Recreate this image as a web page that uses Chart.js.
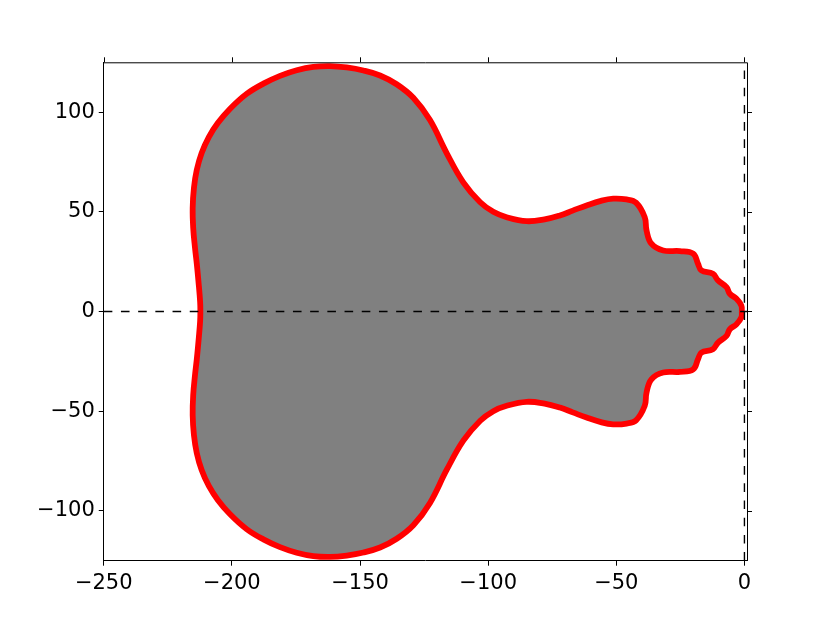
<!DOCTYPE html>
<html>
<head>
<meta charset="utf-8">
<script src="https://cdn.jsdelivr.net/npm/chart.js@4"></script>
<style>
    html, body { margin: 0; padding: 0; background: #fff; }
    canvas { display: block; }
</style>
</head>
<body>
<canvas id="chart" width="830" height="623"></canvas>
<script>
// boundary of the region, upper half: from the tip at the origin going left
const upperX = [-1, -1.2, -3.1, -5.7, -7.0, -10.3, -12.3, -16.8, -18.1, -20.0, -25.2, -31.7, -36.3, -38.2, -38.9, -42.3, -46.0, -51.2, -56.0, -61.6, -67.0, -72.0, -78.0, -85.0, -92.8, -98.0, -103.1, -109.7, -116.2, -122.7, -129.2, -135.7, -142.2, -148.7, -155.2, -161.7, -168.2, -174.7, -181.2, -187.7, -194.2, -200.7, -205.5, -209.0, -211.8, -213.7, -214.8, -215.3, -215.1, -214.4, -213.7, -212.9, -212.4, -212.3];
const upperY = [0, 3.0, 6.4, 8.9, 12.2, 15.6, 18.9, 20.6, 23.9, 29.0, 30.3, 30.6, 34.0, 40.6, 47.3, 54.6, 56.2, 56.6, 55.5, 53.2, 50.6, 48.2, 46.2, 45.3, 47.3, 50.0, 54.8, 64.8, 79.5, 96.0, 107.2, 114.0, 118.4, 120.9, 122.4, 123.1, 122.7, 121.0, 118.2, 114.3, 109.2, 101.7, 94.5, 87.5, 79.5, 71.0, 62.0, 52.0, 42.0, 32.0, 24.0, 13.0, 5.0, 0];

// lower half: from the left end back to the tip
const lowerX = [-212.4, -212.9, -213.7, -214.4, -215.1, -215.3, -214.8, -213.7, -211.8, -209.0, -205.5, -200.7, -194.2, -187.7, -181.2, -174.7, -168.2, -161.7, -155.2, -148.7, -142.2, -135.7, -129.2, -122.7, -116.2, -109.7, -103.1, -98.0, -92.8, -85.0, -78.0, -72.0, -67.0, -61.6, -56.0, -51.2, -46.0, -42.3, -38.9, -38.2, -36.3, -31.7, -25.2, -20.0, -18.1, -16.8, -12.3, -10.3, -7.0, -5.7, -3.1, -1.2, -1];
const lowerY = [-5.0, -13.0, -24.0, -32.0, -42.0, -52.0, -62.0, -71.0, -79.5, -87.5, -94.5, -101.7, -109.2, -114.3, -118.2, -121.0, -122.7, -123.1, -122.4, -120.9, -118.4, -114.0, -107.2, -96.0, -79.5, -64.8, -54.8, -50.0, -47.3, -45.3, -46.2, -48.2, -50.6, -53.2, -55.5, -56.6, -56.2, -54.6, -47.3, -40.6, -34.0, -30.6, -30.3, -29.0, -23.9, -20.6, -18.9, -15.6, -12.2, -8.9, -6.4, -3.0, 0];

// dashed axis lines
const hLineX = [-250, 1];
const hLineY = [0, 0];
const vLineX = [0, 0];
const vLineY = [-125, 125];

const xTicks = [-250, -200, -150, -100, -50, 0];
const yTicks = [-100, -50, 0, 50, 100];

function toPoints(xs, ys) {
    return xs.map((x, i) => ({ x: x, y: ys[i] }));
}

const boundary = toPoints(upperX, upperY).concat(toPoints(lowerX, lowerY));

function fmt(v) {
    return v < 0 ? "\u2212" + Math.abs(v) : String(v);
}

const tickFont = { family: "DejaVu Sans", size: 21 };

// top and right spines with outward ticks, like the left/bottom ones
const frame = {
    id: "frame",
    afterDraw(chart) {
        const ctx = chart.ctx;
        const a = chart.chartArea;
        const xs = chart.scales.x;
        const ys = chart.scales.y;
        ctx.save();
        ctx.strokeStyle = "#000";
        ctx.lineWidth = 1;
        ctx.beginPath();
        ctx.moveTo(a.left, a.top + 0.5);
        ctx.lineTo(a.right + 0.5, a.top + 0.5);
        ctx.lineTo(a.right + 0.5, a.bottom);
        xTicks.forEach(v => {
            const px = Math.round(xs.getPixelForValue(v)) + 0.5;
            ctx.moveTo(px, a.top);
            ctx.lineTo(px, a.top - 5);
        });
        yTicks.forEach(v => {
            const py = Math.round(ys.getPixelForValue(v)) + 0.5;
            ctx.moveTo(a.right, py);
            ctx.lineTo(a.right + 5, py);
        });
        ctx.stroke();
        ctx.restore();
    }
};

new Chart(document.getElementById("chart"), {
    type: "scatter",
    data: {
        datasets: [
            {
                data: toPoints(hLineX, hLineY),
                showLine: true,
                borderColor: "#000",
                borderWidth: 1.4,
                borderDash: [8.6, 8.6],
                pointRadius: 0,
                fill: false,
                order: 0
            },
            {
                data: toPoints(vLineX, vLineY),
                showLine: true,
                borderColor: "#000",
                borderWidth: 1.4,
                borderDash: [8.6, 8.6],
                pointRadius: 0,
                fill: false,
                order: 0
            },
            {
                data: boundary.concat([boundary[0]]),
                showLine: true,
                borderColor: "#ff0000",
                borderWidth: 5.8,
                borderJoinStyle: "round",
                backgroundColor: "#808080",
                fill: "shape",
                tension: 0.4,
                pointRadius: 0,
                order: 1
            }
        ]
    },
    options: {
        responsive: false,
        devicePixelRatio: 1,
        animation: false,
        layout: {
            padding: { left: 23.75, right: 83, top: 62.3, bottom: 22.3 }
        },
        plugins: {
            legend: { display: false },
            tooltip: { enabled: false }
        },
        scales: {
            x: {
                type: "linear",
                position: "bottom",
                min: -250,
                max: 1,
                afterBuildTicks: s => { s.ticks = xTicks.map(v => ({ value: v })); },
                afterFit: s => { s.height = 40; },
                ticks: {
                    font: tickFont,
                    color: "#000",
                    padding: 5,
                    maxRotation: 0,
                    callback: v => fmt(v)
                },
                grid: { drawOnChartArea: false, tickLength: 5, color: "#000" },
                border: { color: "#000", width: 1 }
            },
            y: {
                type: "linear",
                min: -125,
                max: 125,
                afterBuildTicks: s => { s.ticks = yTicks.map(v => ({ value: v })); },
                afterFit: s => { s.width = 80; },
                ticks: {
                    font: tickFont,
                    color: "#000",
                    padding: 4,
                    callback: v => fmt(v)
                },
                grid: { drawOnChartArea: false, tickLength: 5, color: "#000" },
                border: { color: "#000", width: 1 }
            }
        }
    },
    plugins: [frame]
});
</script>
</body>
</html>
